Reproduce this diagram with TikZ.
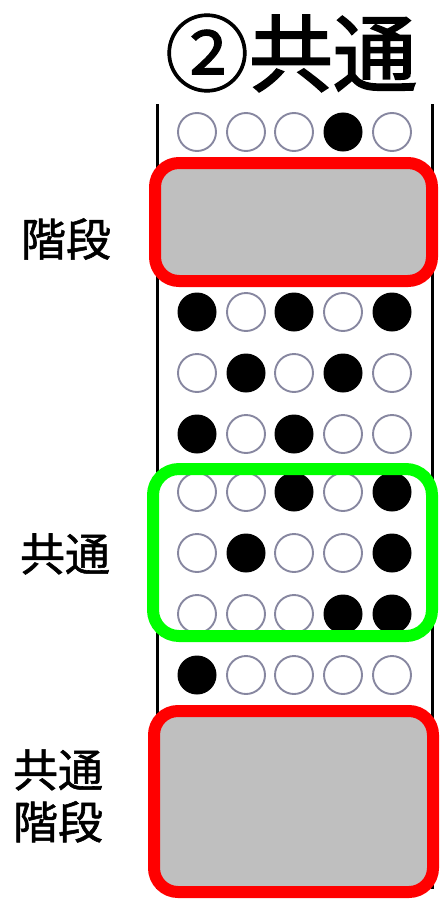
\documentclass[tikz,border=0pt]{standalone}
\usepackage{fontspec}
\newfontfamily\cjk{Noto Sans CJK JP}
\newfontfamily\cjkmid[FakeBold=1.2]{Noto Sans CJK JP}
\newfontfamily\cjktitle[FakeBold=2.2]{Noto Sans CJK JP}
\begin{document}
\begin{tikzpicture}[x=1pt,y=-1pt,
  openc/.style={circle,draw={rgb,255:red,135;green,135;blue,160},line width=1.9pt,fill=white,minimum size=38pt,inner sep=0pt},
  fullc/.style={circle,draw=black,line width=1pt,fill=black,minimum size=38pt,inner sep=0pt},
  redbox/.style={draw=red,line width=12pt,fill=gray!50,rounded corners=24pt},
  greenbox/.style={draw=green,line width=12pt,rounded corners=26pt},
  lbl/.style={font=\cjkmid\fontsize{45}{52}\selectfont,align=center,inner sep=0pt},
  rail/.style={line width=3pt}]
\useasboundingbox (0,0) rectangle (439,899);
\coordinate (lt) at (157,104);
\coordinate (lb) at (157,889);
\coordinate (rt) at (432,104);
\coordinate (rb) at (432,889);
\draw[rail] (lt) -- (lb);
\draw[rail] (rt) -- (rb);
\node[font=\cjktitle\fontsize{84}{90}\selectfont,inner sep=0pt] (title) at (291,53) {{\cjkmid ②}共通};
\foreach \y/\a/\b/\c/\d/\e [count=\r] in {132/0/0/0/1/0, 312/1/0/1/0/1, 373/0/1/0/1/0, 434/1/0/1/0/0, 492/0/0/1/0/1, 553/0/1/0/0/1, 614/0/0/0/1/1, 675/1/0/0/0/0}{
  \foreach \v/\x [count=\i] in {\a/197,\b/246,\c/294,\d/343,\e/392}{
    \ifnum\v=1
      \node[fullc] (c\r\i) at (\x,\y) {};
    \else
      \node[openc] (c\r\i) at (\x,\y) {};
    \fi
  }
}
\draw[redbox] (155,163) rectangle (432,281);
\node[inner sep=0pt] (box1) at (293,222) {};
\draw[greenbox] (153,469) rectangle (432,636);
\node[inner sep=0pt] (box2) at (292,552) {};
\draw[redbox] (154,711) rectangle (433,892);
\node[inner sep=0pt] (box3) at (293,801) {};
\node[lbl] (l1) at (66,239) {階段};
\node[lbl] (l2) at (65,554) {共通};
\node[lbl] (l3) at (58,796) {共通\\階段};
\end{tikzpicture}
\end{document}
